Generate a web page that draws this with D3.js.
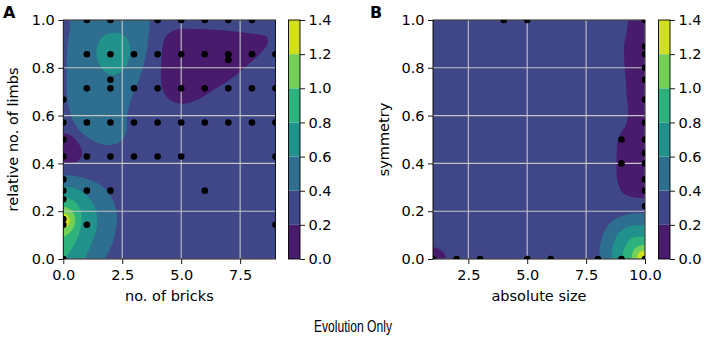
<!DOCTYPE html>
<html>
<head>
<meta charset="utf-8">
<script src="https://d3js.org/d3.v7.min.js"></script>
<style>
  body { margin: 0; background: #fff; }
</style>
</head>
<body>
<div id="chart"></div>
<script>
// contour band edges shared by both panels
const levels = [0, 0.2, 0.4, 0.6, 0.8, 1.0, 1.2, 1.4];
const yTicks = [0, 0.2, 0.4, 0.6, 0.8, 1.0];
const xTicksA = [0, 2.5, 5, 7.5];
const xTicksB = [2.5, 5, 7.5, 10];

// sample points, panel A (no. of bricks, relative no. of limbs)
const dotsA = [
  [1, 1], [2, 1], [4, 1], [5, 1], [6, 1], [7, 1], [8, 1],
  [1, .857], [2, .857], [3, .857], [4, .857], [5, .857], [6, .857], [7, .857], [8, .857], [9, .857],
  [7, .833], [2, .75],
  [1, .714], [2, .714], [3, .714], [4, .714], [5, .714], [6, .714], [7, .714], [8, .714], [9, .714],
  [0, .667],
  [0, .571], [1, .571], [2, .571], [3, .571], [4, .571], [5, .571], [6, .571], [7, .571], [8, .571], [9, .571],
  [0, .5],
  [0, .429], [1, .429], [2, .429], [3, .429], [4, .429], [5, .429], [9, .429],
  [0, .333],
  [0, .286], [1, .286], [2, .286], [6, .286],
  [0, .25], [0, .167], [0, .143], [1, .143], [9, .143], [0, 0]
];

// sample points, panel B (absolute size, symmetry)
const dotsB = [
  [4, 1], [5, 1], [10, 1],
  [10, .889], [10, .857], [10, .8], [10, .75], [10, .667], [10, .571],
  [9, .5], [10, .5], [10, .444], [9, .4], [10, .4],
  [10, .333], [10, .286], [10, .222],
  [1, 0], [2, 0], [3, 0], [5, 0], [6, 0], [8, 0], [9, 0], [10, 0]
];

// contour outlines, in data units
const purpleTopA = [[4.73, .958], [5.79, .962], [7.06, .954], [8.12, .941], [8.63, .929], [8.67, .904],
  [8.42, .866], [7.91, .820], [7.28, .766], [6.43, .711], [5.67, .665], [5.03, .649], [4.52, .665],
  [4.22, .707], [4.14, .770], [4.18, .854], [4.31, .925]];
const purpleLeftA = [[-0.3, .53], [0, .527], [0.28, .519], [0.54, .498], [0.75, .464], [0.79, .435],
  [0.62, .410], [0.28, .402], [0, .400], [-0.3, .40]];
const tealA = [[0.41, 1.03], [0.28, .958], [0.16, .874], [0.14, .803], [0.18, .665], [0.37, .590],
  [0.71, .536], [1.22, .498], [1.77, .477], [2.32, .485], [2.66, .527], [2.70, .590], [2.87, .665],
  [3.21, .749], [3.46, .833], [3.59, .916], [3.55, 1.03]];
const greenA = [[2.28, .946], [2.70, .925], [2.83, .874], [2.74, .824], [2.44, .782], [2.06, .770],
  [1.68, .791], [1.43, .841], [1.47, .900], [1.77, .937]];
const ring04A = [[-0.5, .351], [0, .351], [0.71, .343], [1.43, .318], [1.89, .280], [2.15, .234],
  [2.28, .184], [2.23, .121], [2.06, .059], [1.77, 0], [1.6, -0.05], [-0.5, -0.05]];
const ring06A = [[-0.5, .303], [0, .303], [0.50, .295], [0.92, .272], [1.26, .230], [1.43, .180],
  [1.39, .117], [1.17, .059], [0.92, 0], [0.8, -0.05], [-0.5, -0.05]];
const ring08A = [[-0.5, .255], [0, .255], [0.37, .247], [0.62, .226], [0.77, .184], [0.73, .126],
  [0.50, .067], [0.20, .021], [0, .008], [-0.5, 0]];
const ring10A = [[-0.5, .219], [0, .219], [0.28, .209], [0.47, .184], [0.50, .155], [0.37, .121],
  [0.16, .100], [0, .093], [-0.5, .093]];
const ring12A = [[-0.3, .191], [0, .191], [0.16, .184], [0.26, .167], [0.26, .151], [0.16, .136],
  [0, .132], [-0.3, .132]];

const purpleRightB = [[9.29, 1.03], [9.29, 1.0], [9.22, .950], [9.12, .895], [9.12, .824], [9.18, .753],
  [9.22, .686], [9.29, .615], [9.19, .561], [8.98, .527], [8.83, .490], [8.80, .414], [8.81, .339],
  [9.01, .282], [9.36, .261], [9.97, .254], [10.3, .254], [10.3, 1.03]];
const purpleCornerB = [[0.9, .05], [1.0, .049], [1.25, .043], [1.45, .027], [1.55, 0], [1.5, -0.03], [0.9, -0.03]];
const ring04B = [[8.0, -0.05], [8.05, 0], [8.09, .051], [8.23, .108], [8.58, .156], [9.15, .184],
  [9.96, .191], [10.3, .19], [10.3, -0.05]];
const ring06B = [[8.55, -0.05], [8.58, .004], [8.65, .059], [8.87, .108], [9.29, .135], [9.96, .142],
  [10.3, .142], [10.3, -0.05]];
const ring08B = [[9.0, -0.05], [9.03, .004], [9.15, .051], [9.43, .087], [9.96, .093], [10.3, .093], [10.3, -0.05]];
const ring10B = [[9.4, -0.04], [9.43, .004], [9.57, .045], [9.96, .059], [10.3, .059], [10.3, -0.04]];
const ring12B = [[9.65, -0.04], [9.67, .004], [9.71, .021], [9.85, .032], [9.96, .035], [10.2, .035], [10.2, -0.04]];

// band index: 0 -> 0.0-0.2, 1 -> 0.2-0.4, ...
const layersA = [
  [0, purpleTopA], [0, purpleLeftA], [2, tealA], [3, greenA],
  [2, ring04A], [3, ring06A], [4, ring08A], [5, ring10A], [6, ring12A]
];
const layersB = [
  [0, purpleRightB], [0, purpleCornerB],
  [2, ring04B], [3, ring06B], [4, ring08B], [5, ring10B], [6, ring12B]
];

const W = 706, H = 337;
const plotTop = 20, plotBottom = 259;
const fmt = d3.format(".1f");
const bandColor = i => d3.interpolateViridis((i + 0.5) / (levels.length - 1));
const mplFont = "'DejaVu Sans', sans-serif";

const svg = d3.select("#chart").append("svg")
  .attr("width", W).attr("height", H)
  .style("font-family", mplFont);

const panels = [
  { id: "A", left: 63.3, right: 275.5, xDomain: [0, 9], xTicks: xTicksA,
    xTitle: "no. of bricks", yTitle: "relative no. of limbs", yTitleX: 18, letterX: 3,
    layers: layersA, dots: dotsA, cbLeft: 288.5 },
  { id: "B", left: 433, right: 645, xDomain: [1, 10], xTicks: xTicksB,
    xTitle: "absolute size", yTitle: "symmetry", yTitleX: 389, letterX: 370,
    layers: layersB, dots: dotsB, cbLeft: 658.5 }
];

panels.forEach(p => {
  const x = d3.scaleLinear().domain(p.xDomain).range([p.left, p.right]);
  const y = d3.scaleLinear().domain([0, 1]).range([plotBottom, plotTop]);
  const g = svg.append("g");

  const clipId = "clip" + p.id;
  svg.append("clipPath").attr("id", clipId)
    .append("rect")
    .attr("x", p.left).attr("y", plotTop)
    .attr("width", p.right - p.left).attr("height", plotBottom - plotTop);

  const plot = g.append("g").attr("clip-path", `url(#${clipId})`);

  // background band 0.2-0.4
  plot.append("rect")
    .attr("x", p.left).attr("y", plotTop)
    .attr("width", p.right - p.left).attr("height", plotBottom - plotTop)
    .attr("fill", bandColor(1));

  const line = d3.line()
    .x(d => x(d[0])).y(d => y(d[1]))
    .curve(d3.curveCatmullRomClosed.alpha(0.5));

  plot.selectAll("path.band")
    .data(p.layers)
    .join("path")
    .attr("class", "band")
    .attr("fill", d => bandColor(d[0]))
    .attr("d", d => line(d[1]));

  // grid
  plot.selectAll("line.gx")
    .data(p.xTicks)
    .join("line")
    .attr("class", "gx")
    .attr("x1", d => x(d)).attr("x2", d => x(d))
    .attr("y1", plotTop).attr("y2", plotBottom)
    .attr("stroke", "#c4c4c4").attr("stroke-width", 1.1);
  plot.selectAll("line.gy")
    .data(yTicks)
    .join("line")
    .attr("class", "gy")
    .attr("x1", p.left).attr("x2", p.right)
    .attr("y1", d => y(d)).attr("y2", d => y(d))
    .attr("stroke", "#c4c4c4").attr("stroke-width", 1.1);

  plot.selectAll("circle")
    .data(p.dots)
    .join("circle")
    .attr("cx", d => x(d[0])).attr("cy", d => y(d[1]))
    .attr("r", 3.3)
    .attr("fill", "#000");

  // spines
  g.append("rect")
    .attr("x", p.left).attr("y", plotTop)
    .attr("width", p.right - p.left).attr("height", plotBottom - plotTop)
    .attr("fill", "none").attr("stroke", "#000").attr("stroke-width", 0.9);

  const xAxis = g.append("g")
    .attr("transform", `translate(0,${plotBottom})`)
    .call(d3.axisBottom(x).tickValues(p.xTicks).tickFormat(fmt).tickSize(5).tickPadding(5.5));
  const yAxis = g.append("g")
    .attr("transform", `translate(${p.left},0)`)
    .call(d3.axisLeft(y).tickValues(yTicks).tickFormat(fmt).tickSize(5).tickPadding(3.5));
  [xAxis, yAxis].forEach(a => {
    a.select(".domain").remove();
    a.selectAll("text").style("font-family", mplFont).attr("font-size", 14.5).attr("fill", "#000");
    a.selectAll("line").attr("stroke-width", 0.9);
  });

  g.append("text")
    .attr("x", (p.left + p.right) / 2).attr("y", 301)
    .attr("text-anchor", "middle").attr("font-size", 14.5)
    .text(p.xTitle);
  g.append("text")
    .attr("transform", `translate(${p.yTitleX},${(plotTop + plotBottom) / 2}) rotate(-90)`)
    .attr("text-anchor", "middle").attr("font-size", 14.5)
    .text(p.yTitle);
  g.append("text")
    .attr("x", p.letterX).attr("y", 18)
    .attr("font-size", 16).attr("font-weight", "bold")
    .text(p.id);

  // colorbar
  const cb = d3.scaleLinear().domain([levels[0], levels[levels.length - 1]]).range([plotBottom, plotTop]);
  const cbW = 11.5;
  const bands = d3.range(levels.length - 1);
  g.selectAll("rect.cb")
    .data(bands)
    .join("rect")
    .attr("class", "cb")
    .attr("x", p.cbLeft).attr("width", cbW)
    .attr("y", i => cb(levels[i + 1]))
    .attr("height", i => cb(levels[i]) - cb(levels[i + 1]))
    .attr("fill", i => bandColor(i));
  g.append("rect")
    .attr("x", p.cbLeft).attr("y", plotTop)
    .attr("width", cbW).attr("height", plotBottom - plotTop)
    .attr("fill", "none").attr("stroke", "#000").attr("stroke-width", 0.9);
  const cbAxis = g.append("g")
    .attr("transform", `translate(${p.cbLeft + cbW},0)`)
    .call(d3.axisRight(cb).tickValues(levels).tickFormat(fmt).tickSize(5).tickPadding(3.5));
  cbAxis.select(".domain").remove();
  cbAxis.selectAll("text").style("font-family", mplFont).attr("font-size", 14.5).attr("fill", "#000");
  cbAxis.selectAll("line").attr("stroke-width", 0.9);
});

// figure caption, condensed sans
svg.append("text")
  .attr("x", 353).attr("y", 332)
  .attr("text-anchor", "middle")
  .style("font-family", "'Liberation Sans', Arial, sans-serif")
  .attr("font-size", 16.5)
  .attr("textLength", 78)
  .attr("lengthAdjust", "spacingAndGlyphs")
  .text("Evolution Only");
</script>
</body>
</html>
